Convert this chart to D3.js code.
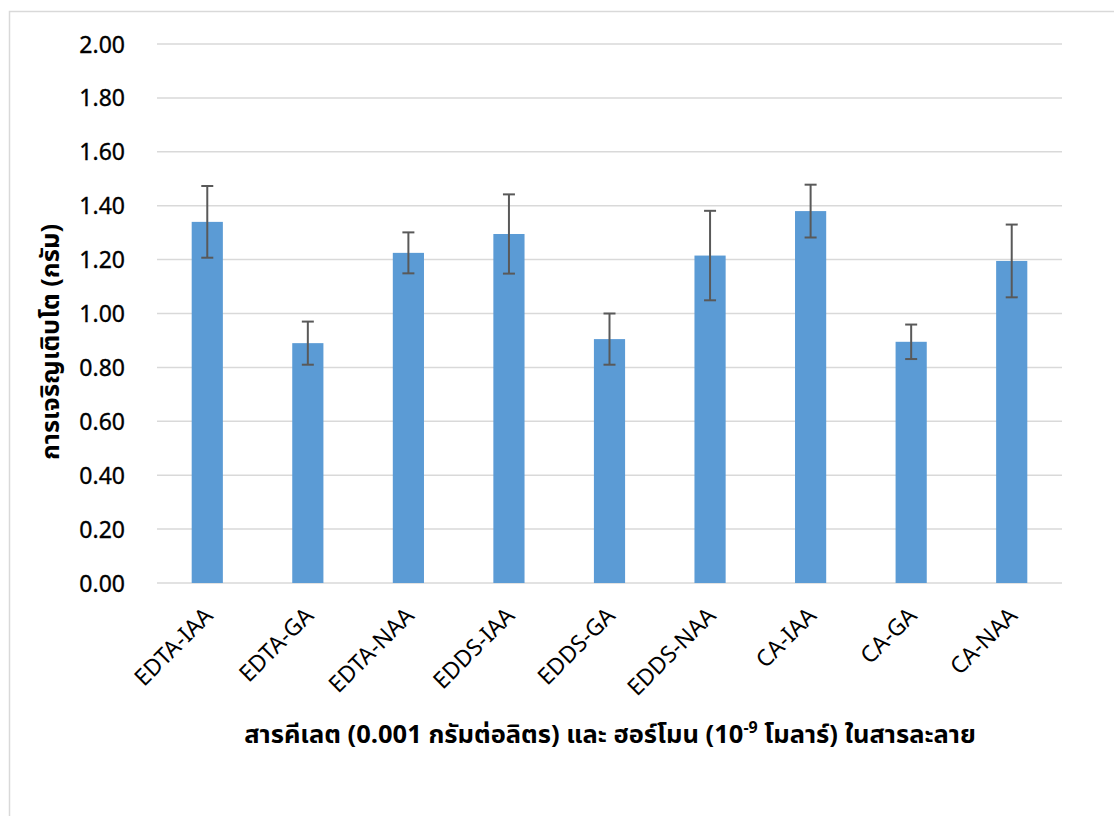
<!DOCTYPE html>
<html>
<head>
<meta charset="utf-8">
<script src="https://cdn.jsdelivr.net/npm/d3@7"></script>
<style>
  html, body { margin: 0; padding: 0; background: #fff; }
  svg { display: block; }
</style>
</head>
<body>
<svg id="chart" width="1114" height="816"></svg>
<script>
const categories = ["EDTA-IAA", "EDTA-GA", "EDTA-NAA", "EDDS-IAA", "EDDS-GA", "EDDS-NAA", "CA-IAA", "CA-GA", "CA-NAA"];
const values = [1.34, 0.89, 1.225, 1.295, 0.905, 1.215, 1.38, 0.895, 1.195];
const errors = [0.133, 0.08, 0.076, 0.147, 0.095, 0.166, 0.098, 0.064, 0.135];
const yTicks = [0, 0.2, 0.4, 0.6, 0.8, 1.0, 1.2, 1.4, 1.6, 1.8, 2.0];
const yTitle = "การเจริญเติบโต (กรัม)";
const xTitleParts = ["สารคีเลต (0.001 กรัมต่อลิตร) และ ฮอร์โมน (10", "-9", " โมลาร์) ในสารละลาย"];

const svg = d3.select("#chart");
const tickFont = "'Noto Sans', 'DejaVu Sans', sans-serif";
const thaiFont = "Tahoma, 'Noto Sans Thai', 'Noto Sans', sans-serif";

// outer frame (extends beyond viewport on right/bottom)
svg.append("rect")
  .attr("x", 9.5).attr("y", 11.5)
  .attr("width", 1200).attr("height", 900)
  .attr("fill", "#fff").attr("stroke", "#d9d9d9").attr("stroke-width", 1.5);

const plotL = 157, plotR = 1062, plotT = 44, plotB = 583;

const x = d3.scaleBand().domain(categories).range([plotL, plotR]).paddingInner(0.69).paddingOuter(0.345);
const y = d3.scaleLinear().domain([0, 2]).range([plotB, plotT]);

// gridlines
svg.append("g").selectAll("line").data(yTicks).join("line")
  .attr("x1", plotL).attr("x2", plotR)
  .attr("y1", d => y(d)).attr("y2", d => y(d))
  .attr("stroke", "#d9d9d9").attr("stroke-width", 1.5);

// y axis labels
const yAxis = d3.axisLeft(y).tickValues(yTicks).tickFormat(d3.format(".2f")).tickSize(0).tickPadding(0);
const yg = svg.append("g").attr("transform", `translate(${125},0)`).call(yAxis);
yg.select(".domain").remove();
yg.selectAll("text")
  .attr("font-family", tickFont).attr("font-size", 23).attr("fill", "#000")
  .attr("stroke", "#000").attr("stroke-width", 0.35)
  .attr("dy", "0.35em");

// bars
svg.append("g").selectAll("rect").data(categories).join("rect")
  .attr("x", d => x(d)).attr("width", x.bandwidth())
  .attr("y", (d, i) => y(values[i]))
  .attr("height", (d, i) => y(0) - y(values[i]))
  .attr("fill", "#5b9bd5");

// error bars
const eg = svg.append("g").attr("stroke", "#595959").attr("stroke-width", 2).attr("fill", "none");
categories.forEach((c, i) => {
  const cx = x(c) + x.bandwidth() / 2;
  const hi = y(values[i] + errors[i]), lo = y(values[i] - errors[i]);
  eg.append("line").attr("x1", cx).attr("x2", cx).attr("y1", hi).attr("y2", lo);
  eg.append("line").attr("x1", cx - 6).attr("x2", cx + 6).attr("y1", hi).attr("y2", hi);
  eg.append("line").attr("x1", cx - 6).attr("x2", cx + 6).attr("y1", lo).attr("y2", lo);
});

// x axis labels
const xAxis = d3.axisBottom(x).tickSize(0).tickPadding(0);
const xg = svg.append("g").attr("transform", `translate(0,${plotB})`).call(xAxis);
xg.select(".domain").remove();
xg.selectAll("text")
  .attr("font-family", tickFont).attr("font-size", 23).attr("fill", "#000")
  .attr("text-anchor", "end")
  .attr("dy", null).attr("y", null)
  .attr("transform", "translate(7,34) rotate(-45)");

// y title
svg.append("text")
  .attr("transform", `translate(59,342) rotate(-90)`)
  .attr("text-anchor", "middle")
  .attr("font-family", thaiFont).attr("font-weight", "bold").attr("font-size", 25.5)
  .text(yTitle);

// x title
const xt = svg.append("text")
  .attr("x", 610).attr("y", 743)
  .attr("text-anchor", "middle")
  .attr("font-family", thaiFont).attr("font-weight", "bold").attr("font-size", 25.5);
xt.append("tspan").text(xTitleParts[0]);
xt.append("tspan").attr("font-size", 16).attr("dy", -10).text(xTitleParts[1]);
xt.append("tspan").attr("dy", 10).text(xTitleParts[2]);
</script>
</body>
</html>
